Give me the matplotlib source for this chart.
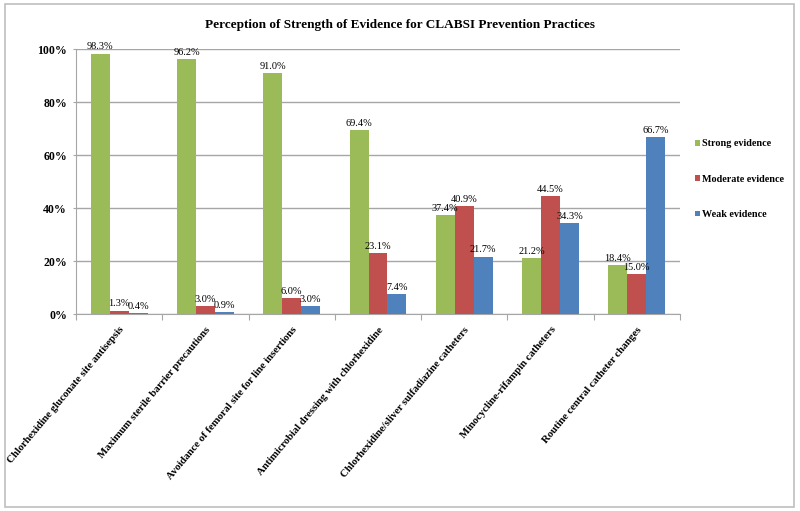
import numpy as np
import matplotlib
matplotlib.use('Agg')
import matplotlib.pyplot as plt
from matplotlib.patches import Rectangle
from matplotlib.ticker import FuncFormatter

practices = ['Chlorhexidine gluconate site antisepsis',
             'Maximum sterile barrier precautions',
             'Avoidance of femoral site for line insertions',
             'Antimicrobial dressing with chlorhexidine',
             'Chlorhexidine/sliver sulfadiazine catheters',
             'Minocycline-rifampin catheters',
             'Routine central catheter changes']
strong = [98.3, 96.2, 91.0, 69.4, 37.4, 21.2, 18.4]
moderate = [1.3, 3.0, 6.0, 23.1, 40.9, 44.5, 15.0]
weak = [0.4, 0.9, 3.0, 7.4, 21.7, 34.3, 66.7]
series_names = ['Strong evidence', 'Moderate evidence', 'Weak evidence']
colors = ['#9BBB59', '#C0504D', '#4F81BD']

plt.rcParams['font.family'] = ['Liberation Serif', 'DejaVu Serif']

fig = plt.figure(figsize=(8, 5.11), dpi=100)
# light frame round the whole chart, like the Excel chart area
fig.patches.append(Rectangle((0.006, 0.008), 0.986, 0.984, transform=fig.transFigure,
                             fill=False, edgecolor='#BFBFBF', linewidth=1.2))
ax = fig.add_axes([0.095, 0.3855, 0.755, 0.5185])

x = np.arange(len(practices))
w = 0.22
for i, vals in enumerate([strong, moderate, weak]):
    pos = x + (i - 1) * w
    ax.bar(pos, np.array(vals) / 100, width=w, color=colors[i], label=series_names[i], zorder=3)
    for p, v in zip(pos, vals):
        ax.text(p, v / 100 + 0.008, '%.1f%%' % v, ha='center', va='bottom', fontsize=7.4, zorder=4)

ax.set_xlim(-0.5, len(practices) - 0.5)
ax.set_ylim(0, 1)
ax.set_yticks([0, 0.2, 0.4, 0.6, 0.8, 1.0])
ax.yaxis.set_major_formatter(FuncFormatter(lambda v, p: '%d%%' % round(v * 100)))
ax.grid(axis='y', color='#A6A6A6', linewidth=1, zorder=0)
for lab in ax.get_yticklabels():
    lab.set_fontweight('bold')
    lab.set_fontsize(8.5)
ax.tick_params(axis='y', length=2.5, color='#A6A6A6', pad=4)

ax.set_xticks(np.arange(len(practices) + 1) - 0.5, minor=False)
ax.set_xticklabels([])
ax.tick_params(axis='x', length=4, color='#A6A6A6', direction='out')
ax.set_xticks(x, minor=True)
ax.set_xticklabels(practices, minor=True, rotation=50, ha='right', va='top',
                   rotation_mode='anchor', fontsize=7.7, fontweight='bold')
ax.tick_params(axis='x', which='minor', length=0, pad=8)

for s in ['top', 'right']:
    ax.spines[s].set_visible(False)
ax.spines['left'].set_color('#A6A6A6')
ax.spines['bottom'].set_color('#A6A6A6')

fig.text(0.5, 0.952, 'Perception of Strength of Evidence for CLABSI Prevention Practices',
         ha='center', va='center', fontsize=9.5, fontweight='bold')

fig.legend(loc='upper left', bbox_to_anchor=(0.857, 0.745), frameon=False,
           handlelength=0.5, handleheight=0.5, handletextpad=0.25, labelspacing=2.6,
           prop={'weight': 'bold', 'size': 7.3})

fig.savefig('out.png', dpi=100)
